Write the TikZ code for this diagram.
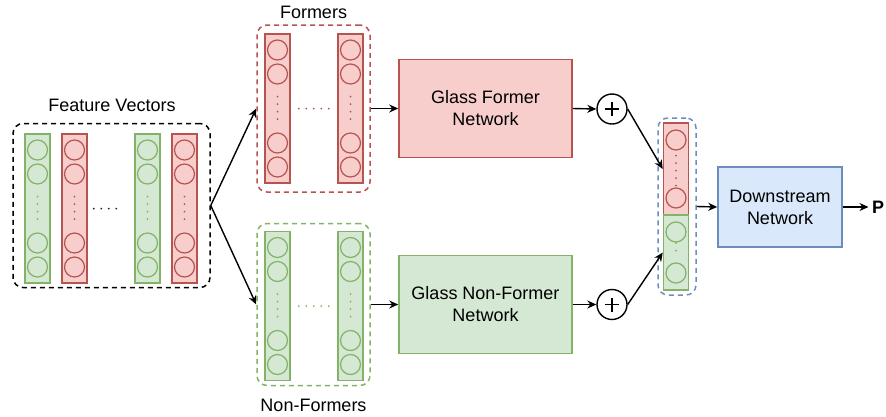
\documentclass[tikz,border=0pt]{standalone}
\usepackage{fontspec}
\setmainfont{Liberation Sans}
\usetikzlibrary{arrows.meta}
\definecolor{rdd}{HTML}{B85450}
\definecolor{rddbg}{HTML}{F8CECC}
\definecolor{grn}{HTML}{82B366}
\definecolor{grnbg}{HTML}{D5E8D4}
\definecolor{blu}{HTML}{6C8EBF}
\definecolor{blubg}{HTML}{DAE8FC}
\begin{document}
\begin{tikzpicture}[x=1pt, y=-1pt,
		every node/.style={font=\fontsize{18}{22}\selectfont},
		col/.style={rectangle, line width=1.5pt, minimum width=25pt, minimum height=149pt, inner sep=0pt},
		cell/.style={circle, line width=1.2pt, minimum size=20pt, inner sep=0pt},
		grp/.style={rectangle, rounded corners=10pt, dash pattern=on 5pt off 4pt, line width=1.5pt, inner sep=0pt},
		net/.style={rectangle, line width=1.5pt, minimum width=173pt, minimum height=98pt, align=center},
		dots/.style={line width=2pt, line cap=round, dash pattern=on 0pt off 7.5pt},
		arr/.style={-{Stealth[length=9pt,width=8pt]}, line width=1.4pt},
		addnode/.style={circle, draw, line width=1.4pt, minimum size=30pt, inner sep=0pt,
			path picture={\draw[line width=1.6pt] (path picture bounding box.center) +(-7pt,0pt) -- +(7pt,0pt)
				(path picture bounding box.center) +(0pt,-7pt) -- +(0pt,7pt);}}]
		\useasboundingbox (0,0) rectangle (886,416);

		% groups
		\node[grp, draw=black, minimum width=197pt, minimum height=164pt] (feat) at (111.5,205.5) {};
		\node (featlbl) at (112,105) {Feature Vectors};
		\node[grp, draw=rdd, minimum width=113pt, minimum height=167pt] (form) at (313.5,108.5) {};
		\node (formlbl) at (313.5,12) {Formers};
		\node[grp, draw=grn, minimum width=113pt, minimum height=162pt] (nform) at (313.5,304.5) {};
		\node (nformlbl) at (313.5,405) {Non-Formers};

		% columns of units
		\foreach \cn/\cx/\cy/\cc in {fa/37.5/208.5/grn, fb/74.5/208.5/rdd, fc/147.5/208.5/grn, fd/184.5/208.5/rdd,
				ma/277.5/108.5/rdd, mb/350.5/108.5/rdd, na/277.5/306/grn, nb/350.5/306/grn}{
			\node[col, draw=\cc, fill=\cc bg] (\cn) at (\cx,\cy) {};
			\node[cell, draw=\cc] (\cn1) at (\cx,\cy-58.5) {};
			\node[cell, draw=\cc] (\cn2) at (\cx,\cy-34.5) {};
			\node[cell, draw=\cc] (\cn3) at (\cx,\cy+34.5) {};
			\node[cell, draw=\cc] (\cn4) at (\cx,\cy+58.5) {};
			\draw[dots, \cc] ([yshift=-12pt]\cn2.south) -- ([yshift=6pt]\cn3.north);
		}
		\draw[dots, black!85] ([xshift=6pt]fb.east) -- ([xshift=-12pt]fc.west);
		\draw[dots, rdd] ([xshift=8pt]ma.east) -- ([xshift=-8pt]mb.west);
		\draw[dots, grn] ([xshift=8pt]na.east) -- ([xshift=-8pt]nb.west);

		% networks
		\node[net, draw=rdd, fill=rddbg] (gfn) at (485.5,108.5) {Glass Former\\Network};
		\node[net, draw=grn, fill=grnbg] (gnfn) at (485.5,304.5) {Glass Non-Former\\Network};
		\node[addnode] (suma) at (612,109) {};
		\node[addnode] (sumb) at (612,304.5) {};

		% concatenation
		\node[grp, draw=blu, minimum width=38pt, minimum height=177pt] (cat) at (677,206.5) {};
		\node[col, draw=rdd, fill=rddbg, minimum height=92pt] (catr) at (676,169) {};
		\node[col, draw=grn, fill=grnbg, minimum height=75pt] (catg) at (676,252.5) {};
		\node[cell, draw=rdd] (catr1) at (676,140) {};
		\node[cell, draw=rdd] (catr2) at (676,198) {};
		\node[cell, draw=grn] (catg1) at (676,232) {};
		\node[cell, draw=grn] (catg2) at (676,273) {};
		\draw[dots, rdd] ([yshift=-5pt]catr1.south) -- ([yshift=1pt]catr2.north);
		\draw[dots, grn] ([yshift=-0.5pt]catg1.south) -- ([yshift=5pt]catg2.north);

		\node[net, draw=blu, fill=blubg, minimum width=124pt, minimum height=80pt] (down) at (780,207) {Downstream\\Network};
		\node[font=\fontsize{18}{22}\selectfont\bfseries] (out) at (878,207) {P};

		% arrows
		\draw[arr] (feat.east) -- (form.west);
		\draw[arr] (feat.east) -- (nform.west);
		\draw[arr] (form.east) -- (gfn.west);
		\draw[arr] (nform.east) -- (gnfn.west);
		\draw[arr] (gfn.east) -- (suma.west);
		\draw[arr] (gnfn.east) -- (sumb.west);
		\draw[arr] (suma.east) -- (catr.west);
		\draw[arr] (sumb.east) -- (catg.west);
		\draw[arr] (cat.east) -- (down.west);
		\draw[arr] (down.east) -- (out.west);
	\end{tikzpicture}
\end{document}
